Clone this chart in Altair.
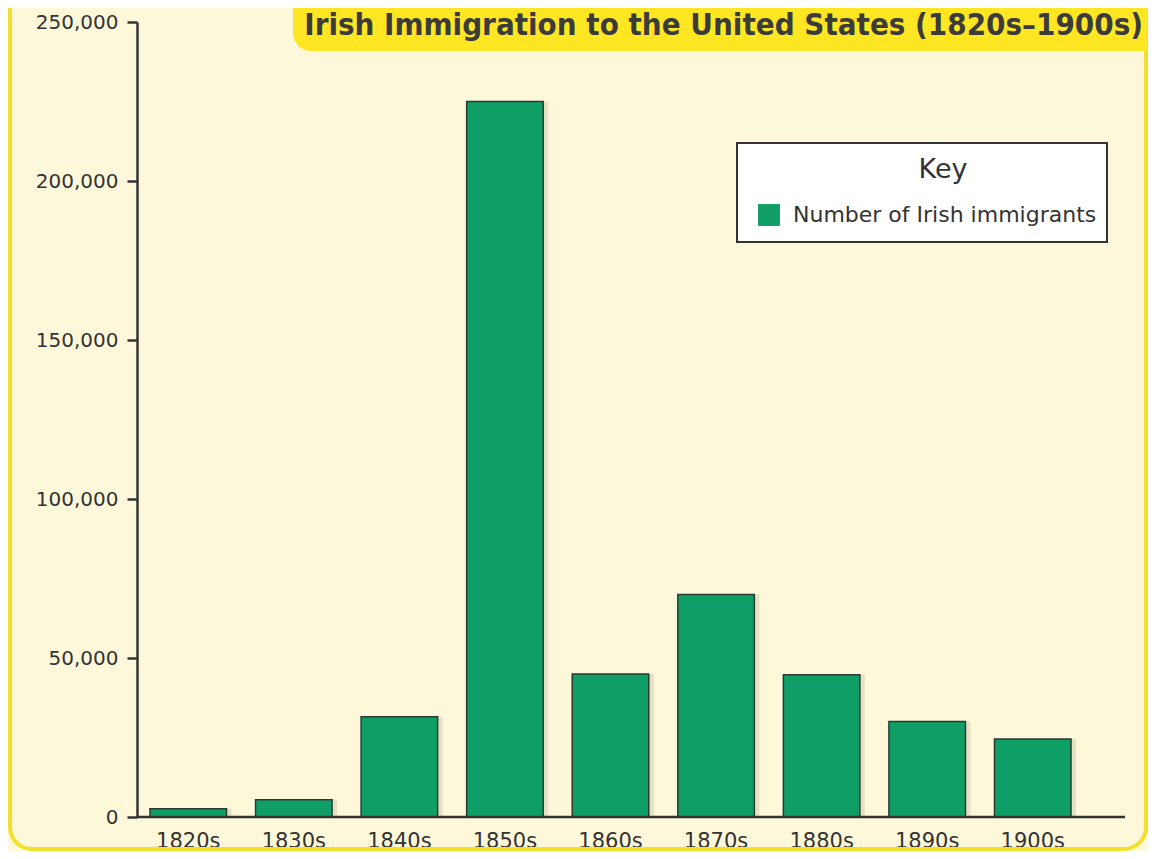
import altair as alt
import pandas as pd

# ---- data ----
decades = ["1820s", "1830s", "1840s", "1850s", "1860s", "1870s", "1880s", "1890s", "1900s"]
immigrants = [2600, 5400, 31500, 225000, 45000, 70000, 44700, 30000, 24500]
series_name = "Number of Irish immigrants"
title_text = "Irish Immigration to the United States (1820s\u20131900s)"
legend_title = "Key"
y_ticks = [0, 50000, 100000, 150000, 200000, 250000]

df = pd.DataFrame({"decade": decades, "immigrants": immigrants, "series": series_name})
one = pd.DataFrame({"a": [0]})

GREEN = "#0f9f66"
DARK = "#333333"
BG = "#fdf8da"
YELLOW = "#ffe623"
FONT = "DejaVu Sans"
TFONT = "Liberation Sans Narrow, DejaVu Sans Condensed, Roboto Condensed, Arial Narrow, sans-serif"

W, H = 947, 795

x_enc = alt.X("decade:N", sort=decades,
              scale=alt.Scale(paddingInner=0.275, paddingOuter=0.123),
              axis=alt.Axis(title=None, domain=False, ticks=False, labelAngle=0,
                            labelFont=FONT, labelFontSize=21, labelColor=DARK,
                            labelPadding=13))
y_enc = alt.Y("immigrants:Q", scale=alt.Scale(domain=[0, 250000], nice=False),
              axis=alt.Axis(title=None, values=y_ticks, format=",d", grid=False,
                            domainColor=DARK, domainWidth=2.5, tickColor=DARK,
                            tickWidth=2.5, tickSize=10, labelFont=FONT,
                            labelFontSize=20, labelColor=DARK, labelPadding=9))

frame = alt.Chart(one).mark_rect(fill=None, stroke="#f2e02c", strokeWidth=4,
                                 cornerRadius=22).encode(
    x=alt.value(-127), x2=alt.value(1009), y=alt.value(-60), y2=alt.value(827))

title_box = alt.Chart(one).mark_rect(fill=YELLOW, cornerRadius=18).encode(
    x=alt.value(156), x2=alt.value(1040), y=alt.value(-60), y2=alt.value(29))

title = alt.Chart(one).mark_text(text=title_text, font=TFONT, fontSize=31,
                                 fontWeight="bold", color="#3b3b3b",
                                 align="right", baseline="alphabetic").encode(
    x=alt.value(1006), y=alt.value(13))

shadow = alt.Chart(df).mark_bar(color="#6b6750", opacity=0.16, xOffset=5).encode(
    x=x_enc, y=y_enc)

bars = alt.Chart(df).mark_bar(stroke="#2a3a32", strokeWidth=1.5).encode(
    x=x_enc, y=y_enc,
    color=alt.Color("series:N", scale=alt.Scale(range=[GREEN]),
                    legend=alt.Legend(title=None, orient="none", legendX=621, legendY=182,
                                      labelFont=FONT, labelFontSize=22, labelColor=DARK,
                                      labelOffset=13, labelLimit=0, symbolType="square",
                                      symbolSize=480, symbolStrokeWidth=0, padding=0)))

x_axis_line = alt.Chart(one).mark_rule(color=DARK, strokeWidth=2.5).encode(
    x=alt.value(0), x2=alt.value(988), y=alt.value(H))

legend_box = alt.Chart(one).mark_rect(fill="white", stroke=DARK, strokeWidth=2).encode(
    x=alt.value(600), x2=alt.value(970), y=alt.value(121), y2=alt.value(220))

legend_head = alt.Chart(one).mark_text(text=legend_title, font=FONT, fontSize=27,
                                       color=DARK, align="center",
                                       baseline="alphabetic").encode(
    x=alt.value(806), y=alt.value(156))

chart = alt.layer(frame, title_box, title, shadow, bars, x_axis_line,
                  legend_box, legend_head).properties(
    width=W, height=H,
    background=BG,
    padding={"left": 129, "top": 14, "right": 64, "bottom": 34},
    autosize=alt.AutoSizeParams(type="none"),
).configure_view(stroke=None)

chart.save("out.html", embed_options={"renderer": "svg", "actions": False})
